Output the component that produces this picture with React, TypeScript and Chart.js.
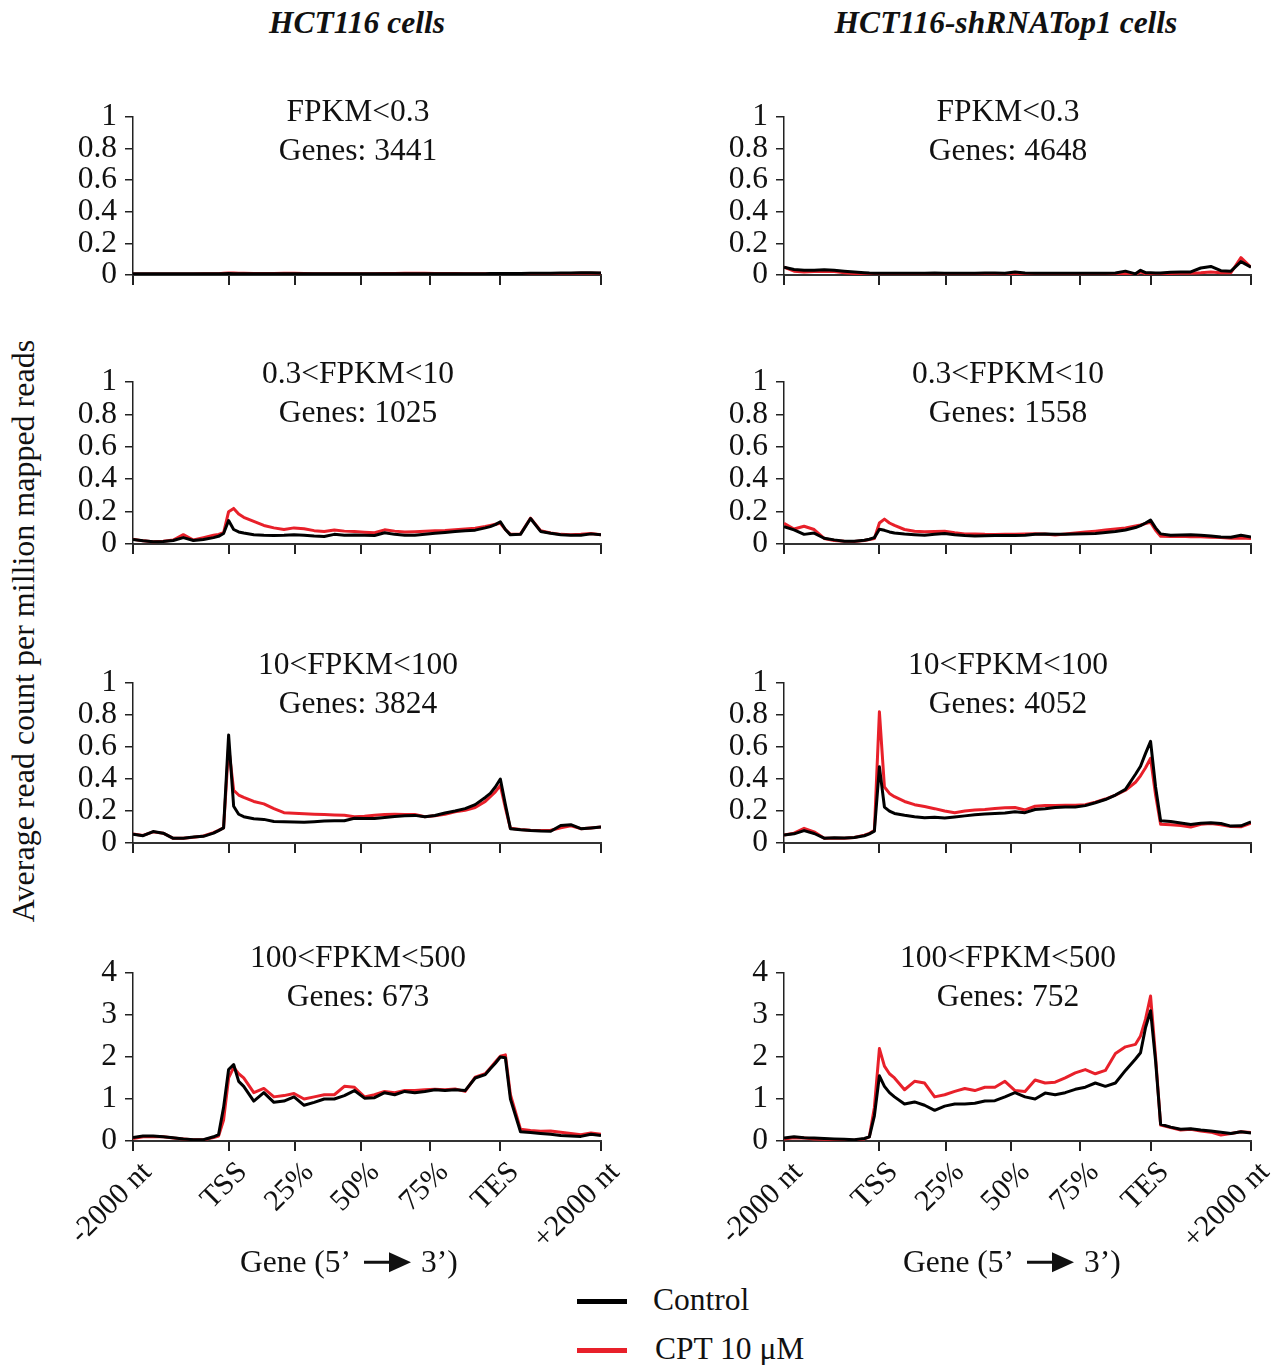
import React, { useEffect, useRef } from 'react';
import { Chart, registerables } from 'chart.js';

Chart.register(...registerables);

// ---- x positions (bin units: upstream 0-19, gene body 19-73, downstream 73-93)
const X_POS = [0, 2, 4, 6, 8, 10, 12, 14, 16, 17, 18, 19,
  20, 21, 22, 24, 26, 28, 30, 32, 34, 36, 38, 40, 42, 44, 46, 48, 50, 52, 54, 56, 58, 60, 62, 64, 66, 68, 70, 71, 72,
  73,
  74, 75, 77, 79, 81, 83, 85, 87, 89, 91, 93];
const X_TICKS = [0, 19, 32.2, 45.3, 59, 73, 93];
const X_LABELS = ['-2000 nt', 'TSS', '25%', '50%', '75%', 'TES', '+2000 nt'];

const ROW_TITLES = ['FPKM<0.3', '0.3<FPKM<10', '10<FPKM<100', '100<FPKM<500'];
const GENES_LEFT = [3441, 1025, 3824, 673];
const GENES_RIGHT = [4648, 1558, 4052, 752];
const Y_MAX = [1, 1, 1, 4];
const Y_STEP = [0.2, 0.2, 0.2, 1];

// ---- HCT116 cells
const A1_CONTROL = [0.008, 0.008, 0.008, 0.008, 0.008, 0.008, 0.008, 0.008, 0.008, 0.008, 0.009, 0.010,
  0.009, 0.008, 0.008, 0.008, 0.008, 0.008, 0.008, 0.008, 0.008, 0.008, 0.008, 0.008, 0.008, 0.008, 0.008, 0.008, 0.008, 0.008, 0.008, 0.009, 0.009, 0.009, 0.009, 0.009, 0.009, 0.009, 0.009, 0.010, 0.010,
  0.010,
  0.010, 0.010, 0.010, 0.011, 0.012, 0.012, 0.013, 0.014, 0.015, 0.015, 0.014];
const A1_CPT = [0.007, 0.007, 0.007, 0.007, 0.007, 0.007, 0.007, 0.008, 0.008, 0.009, 0.011, 0.013,
  0.013, 0.012, 0.011, 0.010, 0.010, 0.010, 0.011, 0.012, 0.010, 0.009, 0.009, 0.009, 0.009, 0.009, 0.009, 0.009, 0.010, 0.010, 0.011, 0.011, 0.011, 0.010, 0.010, 0.010, 0.009, 0.009, 0.009, 0.009, 0.009,
  0.009,
  0.009, 0.009, 0.008, 0.007, 0.006, 0.006, 0.008, 0.010, 0.012, 0.012, 0.011];

const A2_CONTROL = [0.028, 0.020, 0.014, 0.016, 0.022, 0.040, 0.022, 0.028, 0.040, 0.048, 0.065, 0.145,
  0.090, 0.075, 0.068, 0.058, 0.054, 0.053, 0.054, 0.057, 0.055, 0.050, 0.047, 0.060, 0.055, 0.056, 0.054, 0.053, 0.070, 0.060, 0.055, 0.054, 0.060, 0.067, 0.072, 0.078, 0.083, 0.086, 0.100, 0.108, 0.120,
  0.138,
  0.090, 0.057, 0.060, 0.158, 0.078, 0.067, 0.058, 0.054, 0.055, 0.063, 0.057];
const A2_CPT = [0.030, 0.020, 0.014, 0.018, 0.025, 0.058, 0.025, 0.040, 0.055, 0.060, 0.070, 0.200,
  0.220, 0.185, 0.165, 0.140, 0.115, 0.100, 0.090, 0.100, 0.095, 0.083, 0.078, 0.087, 0.080, 0.077, 0.073, 0.070, 0.088, 0.080, 0.074, 0.076, 0.079, 0.082, 0.084, 0.088, 0.093, 0.098, 0.108, 0.115, 0.122,
  0.128,
  0.090, 0.060, 0.062, 0.160, 0.082, 0.068, 0.060, 0.057, 0.060, 0.065, 0.058];

const A3_CONTROL = [0.055, 0.046, 0.072, 0.062, 0.030, 0.030, 0.038, 0.042, 0.062, 0.078, 0.095, 0.675,
  0.230, 0.180, 0.165, 0.152, 0.148, 0.135, 0.133, 0.132, 0.130, 0.134, 0.138, 0.140, 0.140, 0.155, 0.154, 0.154, 0.160, 0.166, 0.170, 0.173, 0.164, 0.172, 0.188, 0.200, 0.215, 0.240, 0.285, 0.310, 0.350,
  0.400,
  0.240, 0.090, 0.083, 0.078, 0.075, 0.074, 0.110, 0.115, 0.090, 0.095, 0.100];
const A3_CPT = [0.057, 0.048, 0.070, 0.062, 0.030, 0.030, 0.036, 0.045, 0.065, 0.080, 0.095, 0.600,
  0.330, 0.300, 0.285, 0.260, 0.245, 0.215, 0.190, 0.186, 0.183, 0.180, 0.178, 0.176, 0.174, 0.165, 0.168, 0.174, 0.178, 0.180, 0.179, 0.178, 0.165, 0.170, 0.180, 0.195, 0.205, 0.222, 0.260, 0.290, 0.320,
  0.360,
  0.220, 0.092, 0.085, 0.080, 0.078, 0.080, 0.095, 0.108, 0.090, 0.095, 0.100];

const A4_CONTROL = [0.080, 0.120, 0.120, 0.100, 0.080, 0.050, 0.030, 0.030, 0.100, 0.150, 0.800, 1.700,
  1.820, 1.420, 1.300, 0.950, 1.150, 0.920, 0.950, 1.050, 0.850, 0.920, 1.000, 1.000, 1.080, 1.200, 1.020, 1.030, 1.150, 1.100, 1.180, 1.150, 1.180, 1.220, 1.200, 1.220, 1.200, 1.500, 1.580, 1.720, 1.850,
  2.000,
  1.980, 1.000, 0.220, 0.200, 0.180, 0.160, 0.130, 0.120, 0.110, 0.160, 0.130];
const A4_CPT = [0.060, 0.100, 0.110, 0.100, 0.070, 0.050, 0.030, 0.030, 0.080, 0.120, 0.500, 1.500,
  1.750, 1.600, 1.500, 1.150, 1.250, 1.050, 1.080, 1.130, 1.000, 1.050, 1.100, 1.100, 1.300, 1.280, 1.050, 1.100, 1.180, 1.150, 1.200, 1.200, 1.220, 1.230, 1.220, 1.240, 1.180, 1.520, 1.600, 1.740, 1.880,
  2.020,
  2.050, 1.100, 0.280, 0.250, 0.230, 0.240, 0.210, 0.180, 0.150, 0.190, 0.160];

// ---- HCT116-shRNATop1 cells
const B1_CONTROL = [0.050, 0.035, 0.030, 0.030, 0.034, 0.030, 0.025, 0.020, 0.015, 0.013, 0.012, 0.012,
  0.012, 0.011, 0.011, 0.012, 0.011, 0.012, 0.013, 0.012, 0.012, 0.011, 0.012, 0.013, 0.013, 0.012, 0.020, 0.013, 0.012, 0.012, 0.012, 0.011, 0.012, 0.012, 0.012, 0.012, 0.013, 0.025, 0.008, 0.030, 0.015,
  0.015,
  0.014, 0.013, 0.018, 0.020, 0.020, 0.045, 0.055, 0.028, 0.025, 0.085, 0.050];
const B1_CPT = [0.050, 0.025, 0.020, 0.022, 0.025, 0.022, 0.015, 0.010, 0.006, 0.005, 0.005, 0.005,
  0.005, 0.005, 0.005, 0.005, 0.005, 0.005, 0.006, 0.005, 0.005, 0.005, 0.005, 0.006, 0.006, 0.005, 0.008, 0.005, 0.005, 0.005, 0.005, 0.005, 0.005, 0.005, 0.005, 0.005, 0.005, 0.010, 0.004, 0.020, 0.008,
  0.006,
  0.007, 0.008, 0.010, 0.012, 0.012, 0.015, 0.020, 0.015, 0.015, 0.110, 0.050];

const B2_CONTROL = [0.108, 0.088, 0.060, 0.068, 0.036, 0.026, 0.018, 0.018, 0.024, 0.030, 0.040, 0.092,
  0.085, 0.075, 0.068, 0.062, 0.058, 0.054, 0.060, 0.066, 0.058, 0.053, 0.050, 0.051, 0.053, 0.053, 0.053, 0.055, 0.060, 0.063, 0.060, 0.060, 0.063, 0.064, 0.066, 0.072, 0.078, 0.087, 0.102, 0.114, 0.130,
  0.148,
  0.100, 0.063, 0.055, 0.056, 0.058, 0.055, 0.050, 0.044, 0.042, 0.055, 0.043];
const B2_CPT = [0.128, 0.093, 0.110, 0.090, 0.035, 0.022, 0.018, 0.016, 0.022, 0.028, 0.035, 0.130,
  0.154, 0.130, 0.115, 0.090, 0.079, 0.076, 0.077, 0.079, 0.070, 0.063, 0.063, 0.060, 0.059, 0.060, 0.060, 0.062, 0.064, 0.062, 0.056, 0.062, 0.069, 0.074, 0.080, 0.087, 0.093, 0.100, 0.112, 0.118, 0.126,
  0.134,
  0.085, 0.049, 0.047, 0.048, 0.046, 0.045, 0.042, 0.040, 0.036, 0.038, 0.035];

const B3_CONTROL = [0.050, 0.058, 0.078, 0.060, 0.031, 0.033, 0.032, 0.035, 0.046, 0.058, 0.075, 0.476,
  0.225, 0.200, 0.185, 0.174, 0.165, 0.158, 0.162, 0.157, 0.163, 0.170, 0.177, 0.181, 0.185, 0.188, 0.196, 0.190, 0.210, 0.215, 0.222, 0.226, 0.226, 0.234, 0.252, 0.272, 0.300, 0.335, 0.430, 0.480, 0.560,
  0.635,
  0.350, 0.140, 0.135, 0.125, 0.116, 0.124, 0.127, 0.122, 0.106, 0.108, 0.132];
const B3_CPT = [0.050, 0.062, 0.092, 0.070, 0.030, 0.031, 0.030, 0.035, 0.050, 0.060, 0.080, 0.820,
  0.350, 0.310, 0.290, 0.260, 0.240, 0.228, 0.215, 0.200, 0.190, 0.200, 0.206, 0.210, 0.216, 0.220, 0.222, 0.207, 0.230, 0.234, 0.235, 0.236, 0.236, 0.240, 0.256, 0.275, 0.300, 0.330, 0.380, 0.420, 0.470,
  0.530,
  0.300, 0.118, 0.115, 0.110, 0.100, 0.118, 0.122, 0.115, 0.103, 0.102, 0.124];

const B4_CONTROL = [0.070, 0.100, 0.080, 0.070, 0.060, 0.050, 0.040, 0.030, 0.060, 0.100, 0.600, 1.550,
  1.300, 1.150, 1.050, 0.880, 0.930, 0.850, 0.730, 0.830, 0.880, 0.880, 0.900, 0.950, 0.960, 1.050, 1.150, 1.050, 1.000, 1.140, 1.100, 1.150, 1.230, 1.280, 1.380, 1.300, 1.380, 1.680, 1.950, 2.100, 2.700,
  3.100,
  1.900, 0.400, 0.330, 0.280, 0.290, 0.260, 0.240, 0.210, 0.180, 0.220, 0.190];
const B4_CPT = [0.050, 0.080, 0.070, 0.050, 0.040, 0.030, 0.020, 0.020, 0.050, 0.100, 0.800, 2.200,
  1.780, 1.600, 1.500, 1.220, 1.420, 1.380, 1.050, 1.100, 1.180, 1.250, 1.200, 1.280, 1.280, 1.420, 1.200, 1.180, 1.450, 1.380, 1.400, 1.500, 1.620, 1.700, 1.600, 1.680, 2.080, 2.240, 2.300, 2.500, 2.900,
  3.450,
  2.000, 0.380, 0.320, 0.260, 0.280, 0.240, 0.210, 0.140, 0.180, 0.220, 0.200];

const LEFT_SERIES = [[A1_CONTROL, A1_CPT], [A2_CONTROL, A2_CPT], [A3_CONTROL, A3_CPT], [A4_CONTROL, A4_CPT]];
const RIGHT_SERIES = [[B1_CONTROL, B1_CPT], [B2_CONTROL, B2_CPT], [B3_CONTROL, B3_CPT], [B4_CONTROL, B4_CPT]];

// ---- layout
const FONT = '"Liberation Serif", "Times New Roman", serif';
const RED = '#e8202a';
const INK = '#111';
const ROW_TOP = [114, 379, 680, 970];
const ROW_BOTTOM = [280, 549, 848, 1141];
const COL_LEFT = [133, 784];
const COL_RIGHT = [601, 1251];
const TITLE_Y = [111, 373, 664, 957];
const TITLE_X = [358, 1008];

type PanelProps = {
  control: number[]; cpt: number[]; yMax: number; yStep: number;
  left: number; right: number; top: number; bottom: number; labels: boolean;
};

function Panel(p: PanelProps) {
  const ref = useRef<HTMLCanvasElement | null>(null);
  const padL = 30, yW = 70, padR = 34, padT = 24;
  const xH = p.labels ? 125 : 22;
  const cw = (p.right - p.left) + padL + yW + padR;
  const ch = (p.bottom - p.top) + padT + xH;

  useEffect(() => {
    if (!ref.current) return;
    const font = { family: FONT, size: 31.5 };
    const chart = new Chart(ref.current, {
      type: 'line',
      data: {
        datasets: [
          {
            label: 'Control',
            data: X_POS.map((x, i) => ({ x, y: p.control[i] })),
            borderColor: '#000', borderWidth: 3, pointRadius: 0, tension: 0,
            borderJoinStyle: 'round', fill: false,
          },
          {
            label: 'CPT 10 μM',
            data: X_POS.map((x, i) => ({ x, y: p.cpt[i] })),
            borderColor: RED, borderWidth: 3, pointRadius: 0, tension: 0,
            borderJoinStyle: 'round', fill: false,
          },
        ],
      },
      options: {
        animation: false,
        responsive: false,
        maintainAspectRatio: false,
        events: [],
        layout: { padding: { left: padL, right: padR, top: padT, bottom: 0 } },
        plugins: { legend: { display: false }, tooltip: { enabled: false }, title: { display: false } },
        scales: {
          x: {
            type: 'linear', min: 0, max: 93,
            afterBuildTicks: (s: any) => { s.ticks = X_TICKS.map((v) => ({ value: v })); },
            afterFit: (s: any) => { s.height = xH; },
            ticks: {
              display: p.labels, autoSkip: false, minRotation: 45, maxRotation: 45,
              font: { family: FONT, size: 30 }, color: INK, padding: 4, labelOffset: 14,
              callback: (_v: any, i: number) => X_LABELS[i],
            },
            grid: { display: true, drawOnChartArea: false, drawTicks: true, tickLength: 10, color: '#222', lineWidth: 2 },
            border: { display: true, color: '#333', width: 2 },
          },
          y: {
            min: 0, max: p.yMax,
            afterFit: (s: any) => { s.width = yW; },
            ticks: {
              stepSize: p.yStep, autoSkip: false, font, color: INK, padding: 8,
              callback: (v: any) => String(Math.round(Number(v) * 10) / 10),
            },
            grid: { display: true, drawOnChartArea: false, drawTicks: true, tickLength: 8, color: '#222', lineWidth: 1.5 },
            border: { display: true, color: '#222', width: 1.5 },
          },
        },
      } as any,
    });
    return () => chart.destroy();
  }, []);

  return (
    <canvas
      ref={ref}
      width={cw}
      height={ch}
      style={{ position: 'absolute', left: p.left - padL - yW, top: p.top - padT, width: cw, height: ch }}
    />
  );
}

function Text(props: { x: number; y: number; size?: number; style?: React.CSSProperties; children: React.ReactNode; anchor?: 'center' | 'left' }) {
  const anchor = props.anchor || 'center';
  return (
    <div
      style={{
        position: 'absolute', left: props.x, top: props.y,
        transform: anchor === 'center' ? 'translate(-50%,-50%)' : 'translateY(-50%)',
        whiteSpace: 'nowrap', lineHeight: 1, fontSize: props.size || 31.5, color: INK,
        ...(props.style || {}),
      }}
    >
      {props.children}
    </div>
  );
}

function Arrow() {
  return (
    <svg width={47} height={22} style={{ display: 'block', margin: '0 10px 0 13px' }}>
      <line x1={0} y1={11} x2={30} y2={11} stroke={INK} strokeWidth={3} />
      <polygon points="25,1 47,11 25,21" fill={INK} />
    </svg>
  );
}

function GeneAxisTitle({ x, y }: { x: number; y: number }) {
  return (
    <div style={{ position: 'absolute', left: x, top: y, transform: 'translateY(-50%)', display: 'flex', alignItems: 'center', fontSize: 31.5, lineHeight: 1, whiteSpace: 'nowrap', color: INK }}>
      <span>Gene (5’</span>
      <Arrow />
      <span>3’)</span>
    </div>
  );
}

export default function App() {
  const panels: React.ReactNode[] = [];
  for (let r = 0; r < 4; r++) {
    for (let c = 0; c < 2; c++) {
      const series = c === 0 ? LEFT_SERIES[r] : RIGHT_SERIES[r];
      panels.push(
        <Panel
          key={`p${r}${c}`}
          control={series[0]} cpt={series[1]}
          yMax={Y_MAX[r]} yStep={Y_STEP[r]}
          left={COL_LEFT[c]} right={COL_RIGHT[c]} top={ROW_TOP[r]} bottom={ROW_BOTTOM[r]}
          labels={r === 3}
        />
      );
      const genes = c === 0 ? GENES_LEFT[r] : GENES_RIGHT[r];
      panels.push(<Text key={`t${r}${c}`} x={TITLE_X[c]} y={TITLE_Y[r]}>{ROW_TITLES[r]}</Text>);
      panels.push(<Text key={`g${r}${c}`} x={TITLE_X[c]} y={TITLE_Y[r] + 39}>{`Genes: ${genes}`}</Text>);
    }
  }

  return (
    <div style={{ position: 'absolute', left: 0, top: 0, width: 1274, height: 1365, overflow: 'hidden', background: '#fff', fontFamily: FONT }}>
      <Text x={357} y={23} style={{ fontWeight: 'bold', fontStyle: 'italic' }}>HCT116 cells</Text>
      <Text x={1006} y={23} style={{ fontWeight: 'bold', fontStyle: 'italic' }}>HCT116-shRNATop1 cells</Text>
      <div
        style={{
          position: 'absolute', left: 23, top: 631, transform: 'translate(-50%,-50%) rotate(-90deg)',
          whiteSpace: 'nowrap', lineHeight: 1, fontSize: 32, color: INK,
        }}
      >
        Average read count per million mapped reads
      </div>
      {panels}
      <GeneAxisTitle x={240} y={1262} />
      <GeneAxisTitle x={903} y={1262} />
      <div style={{ position: 'absolute', left: 577, top: 1299, width: 50, height: 5, background: '#000' }} />
      <Text x={653} y={1300} anchor="left">Control</Text>
      <div style={{ position: 'absolute', left: 577, top: 1348, width: 50, height: 5, background: RED }} />
      <Text x={655} y={1349} anchor="left">CPT 10 μM</Text>
    </div>
  );
}
